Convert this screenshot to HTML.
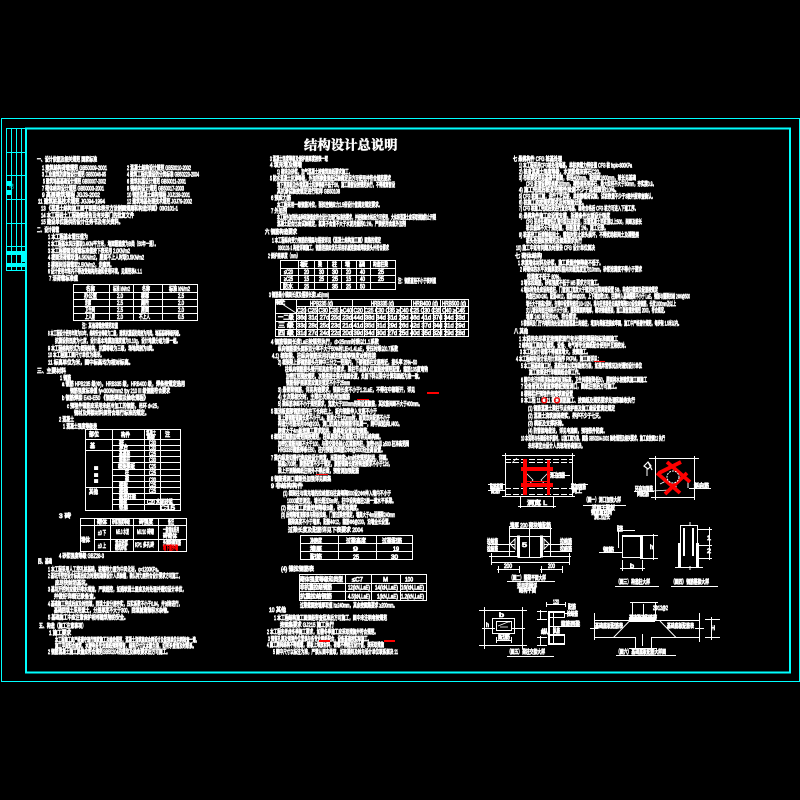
<!DOCTYPE html>
<html lang="zh"><head><meta charset="utf-8"><title>结构设计总说明</title>
<style>
html,body{margin:0;padding:0;background:#000;width:800px;height:800px;overflow:hidden}
svg{display:block}
.t text{font-family:"Liberation Sans","Noto Sans CJK SC",sans-serif;font-size:6.2px;fill:#fff;stroke:#fff;stroke-width:.8}
.l{stroke:#fff;stroke-width:1;fill:none;shape-rendering:crispEdges}
.d{stroke:#fff;stroke-width:1;fill:none}
.c{stroke:#0ff;fill:none;shape-rendering:crispEdges}
.r{fill:#f00;shape-rendering:crispEdges}
</style></head><body>
<svg xmlns="http://www.w3.org/2000/svg" width="800" height="800" viewBox="0 0 800 800">
<rect width="800" height="800" fill="#000"/>
<!-- frames -->
<rect class="c" x="1.5" y="118.5" width="798" height="563"/>
<rect class="c" x="26" y="128.5" width="764" height="544" stroke-width="2" style="stroke-width:2"/>
<line class="c" x1="6" y1="128.5" x2="790" y2="128.5"/>
<path class="c" d="M6.5 128V270.5H26M11.5 128V270.5M16.5 128V270.5M21.5 128V270.5M6.5 152.5H26M6.5 175.5H26M6.5 199.5H26M6.5 223.5H26M6.5 246.5H26"/>
<g fill="#0ff" shape-rendering="crispEdges">
<rect x="7" y="181" width="5" height="5"/><rect x="7" y="190" width="5" height="5"/>
<rect x="7" y="251" width="19" height="4"/><rect x="7" y="263" width="19" height="4"/>
<rect x="21" y="255" width="5" height="7"/>
</g>
<text x="9" y="188" font-size="5" fill="#0ff" font-family="'Liberation Sans','Noto Sans CJK SC',sans-serif">结</text>
<!-- title -->
<text x="304" y="149.5" font-size="13.3" fill="#fff" stroke="#fff" stroke-width=".5" font-weight="700" font-family="'Liberation Serif','Noto Serif CJK SC',serif" textLength="93.5" lengthAdjust="spacingAndGlyphs">结构设计总说明</text>

<!-- tables -->
<g class="l">
<rect x="73.5" y="284.5" width="124" height="36"/>
<path d="M73 292.5H198M73 299.5H198M73 306.5H198M73 313.5H198M109.5 284V321M133.5 284V321M162.5 284V321"/>
<rect x="85.5" y="429.5" width="95" height="81"/>
<path d="M85 439.5H181M112 445.5H181M85 450.5H181M112 456.5H181M112 462.5H181M112 469.5H181M112 475.5H181M112 481.5H181M85 487.5H181M112 493.5H181M112 499.5H181M112 504.5H181M112.5 429V511M144.5 429V511M160.5 429V511"/>
<rect x="80.5" y="518.5" width="106" height="33"/>
<path d="M80 525.5H187M94 539.5H187M94.5 518V552M110.5 518V552M133.5 518V552M158.5 518V552"/>
<rect x="280.5" y="260.5" width="115" height="29"/>
<path d="M280 268.5H396M280 275.5H396M280 282.5H396M298.5 260V290M314.5 260V290M327.5 260V290M341.5 260V290M356.5 260V290M370.5 260V290"/>
<rect x="275.5" y="299.5" width="193" height="37"/>
<path d="M296 306.5H469M275 313.5H469M275 321.5H469M275 329.5H469M296.5 299V337M352.5 299V337M411.5 299V337M440.5 299V337M305.5 306V337M317.5 306V337M329.5 306V337M340.5 306V337M364.5 306V337M376.5 306V337M388.5 306V337M400.5 306V337M423.5 306V337M433.5 306V337M445.5 306V337M456.5 306V337"/>
<rect x="300.5" y="535.5" width="112" height="24"/>
<path d="M300 543.5H413M300 551.5H413M338.5 535V560M376.5 535V560"/>
<rect x="299.5" y="574.5" width="127" height="26"/>
<path d="M299 583.5H427M299 591.5H427M345.5 574V601M371.5 574V601M400.5 574V601"/>
</g>
<line class="d" x1="276" y1="300" x2="296" y2="313"/>

<g class="t">
<!-- column 1 -->
<text x="37" y="161.7" textLength="60" lengthAdjust="spacingAndGlyphs">一、设计依据及相关规范 国家标准</text>
<text x="42" y="169.9" textLength="65" lengthAdjust="spacingAndGlyphs">1 建筑结构荷载规范 GB50009-2001</text>
<text x="127" y="169.9" textLength="64" lengthAdjust="spacingAndGlyphs">2 混凝土结构设计规范 GB50010-2002</text>
<text x="42" y="176.7" textLength="64" lengthAdjust="spacingAndGlyphs">3 工业建筑防腐蚀设计规范 GB50046-95</text>
<text x="127" y="176.7" textLength="72" lengthAdjust="spacingAndGlyphs">4 建筑工程抗震设防分类标准 GB50223-2004</text>
<text x="43" y="183.7" textLength="63" lengthAdjust="spacingAndGlyphs">5 建筑地基基础设计规范 GB50007-2002</text>
<text x="127" y="183.7" textLength="59" lengthAdjust="spacingAndGlyphs">6 建筑抗震设计规范 GB50011-2001</text>
<text x="42" y="190.7" textLength="62" lengthAdjust="spacingAndGlyphs">7 砌体结构设计规范 GB50003-2001</text>
<text x="127" y="190.7" textLength="57" lengthAdjust="spacingAndGlyphs">8 钢结构设计规范 GB50017-2003</text>
<text x="42" y="197.2" textLength="58" lengthAdjust="spacingAndGlyphs">9 高层建筑规程 JGJ3-2002</text>
<text x="127" y="197.2" textLength="63" lengthAdjust="spacingAndGlyphs">10 钢筋混凝土结构规程 JGJ138-2001</text>
<text x="38" y="203.7" textLength="67" lengthAdjust="spacingAndGlyphs">11 建筑桩基技术规范 JGJ94-1994</text>
<text x="127" y="203.7" textLength="65" lengthAdjust="spacingAndGlyphs">12 建筑地基处理技术规范 JGJ79-2002</text>
<text x="41" y="210.7" textLength="137" lengthAdjust="spacingAndGlyphs">13 《混凝土结构施工图平面整体表示方法制图规则和构造详图》03G101-1</text>
<text x="41" y="217.7" textLength="93" lengthAdjust="spacingAndGlyphs">14 本工程岩土工程勘察报告及有关部门的批复文件</text>
<text x="41" y="224.2" textLength="82" lengthAdjust="spacingAndGlyphs">15 建设单位提供的设计任务书及有关资料。</text>
<text x="37" y="232.2" textLength="22" lengthAdjust="spacingAndGlyphs">二、设计荷载</text>
<text x="48" y="239.2" textLength="40" lengthAdjust="spacingAndGlyphs">1 本工程基本雪压值为</text>
<text x="48" y="246.2" textLength="110" lengthAdjust="spacingAndGlyphs">2 本工程基本风压值取0.4KN/平方米，地面粗糙度为B类（50年一遇）。</text>
<text x="48" y="253.2" textLength="82" lengthAdjust="spacingAndGlyphs">3 本工程楼面活荷载标准值按下表采用 2.0KN/m2</text>
<text x="48" y="259.7" textLength="96" lengthAdjust="spacingAndGlyphs">4 楼面活荷载取值4.5KN/m2，屋面不上人时取0.5KN/m2</text>
<text x="48" y="267.2" textLength="66" lengthAdjust="spacingAndGlyphs">5 楼梯间活荷载取2.5KN/m2，走廊同。</text>
<text x="48" y="273.7" textLength="94" lengthAdjust="spacingAndGlyphs">6 设计使用年限内不得改变结构用途和使用环境，见规范表4.1.1</text>
<text x="49" y="280.7" textLength="29" lengthAdjust="spacingAndGlyphs">7 活荷载标准值</text>
<text x="82" y="328" textLength="36" lengthAdjust="spacingAndGlyphs">注：其他荷载按规范取值</text>
<text x="48" y="335.7" textLength="134" lengthAdjust="spacingAndGlyphs">8 本工程设计使用年限为50年，结构安全等级为二级，建筑抗震设防类别为丙类，地基基础等级丙级。</text>
<text x="55" y="343.2" textLength="125" lengthAdjust="spacingAndGlyphs">抗震设防烈度为七度，设计基本地震加速度值为0.10g，设计地震分组为第一组。</text>
<text x="48" y="350.7" textLength="108" lengthAdjust="spacingAndGlyphs">9 本工程结构形式为框架结构，抗震等级为三级，场地类别为II类。</text>
<text x="48" y="357.2" textLength="56" lengthAdjust="spacingAndGlyphs">10 本工程施工图尺寸单位为毫米。</text>
<text x="48" y="364.7" textLength="85" lengthAdjust="spacingAndGlyphs">11 标高单位为米，图中标高均为相对标高。</text>
<text x="37" y="373.2" textLength="29" lengthAdjust="spacingAndGlyphs">三、主要材料</text>
<text x="60" y="380.2" textLength="11" lengthAdjust="spacingAndGlyphs">1 钢筋</text>
<text x="62" y="386.2" textLength="123" lengthAdjust="spacingAndGlyphs">a 钢筋 HPB235 级(Φ)，HRB335 级，HRB400 级，焊条按规定选用</text>
<text x="70" y="393.2" textLength="100" lengthAdjust="spacingAndGlyphs">钢筋强度标准值 fy=300N/mm2 fpy 210 III 级钢筋符合要求</text>
<text x="62" y="400.2" textLength="86" lengthAdjust="spacingAndGlyphs">b 钢筋焊接 E43-E50 《钢筋焊接及验收规程》</text>
<text x="67" y="408.2" textLength="94" lengthAdjust="spacingAndGlyphs">c 预埋件锚筋应采用未经冷加工的钢筋，吊环 d=25，</text>
<text x="74" y="415.2" textLength="75" lengthAdjust="spacingAndGlyphs">钢材及焊接材料须符合现行标准的规定。</text>
<text x="59" y="421.7" textLength="15" lengthAdjust="spacingAndGlyphs">2 混凝土</text>
<text x="63" y="428.7" textLength="34" lengthAdjust="spacingAndGlyphs">1 混凝土强度等级表</text>
<text x="59" y="518.2" textLength="12" lengthAdjust="spacingAndGlyphs">3 砖</text>
<text x="59" y="558.2" textLength="45" lengthAdjust="spacingAndGlyphs">4 砂浆强度等级 GBZ28-3</text>
<text x="38" y="563.7" textLength="14" lengthAdjust="spacingAndGlyphs">四、基础</text>
<text x="48" y="571.7" textLength="113" lengthAdjust="spacingAndGlyphs">1 本工程采用人工挖孔桩基础，桩端持力层为中风化岩，q=1200KPa。</text>
<text x="48" y="578.2" textLength="134" lengthAdjust="spacingAndGlyphs">2 基坑开挖至设计标高后应及时通知勘察设计人员验槽，确认持力层符合设计要求方可施工，</text>
<text x="55" y="585.2" textLength="35" lengthAdjust="spacingAndGlyphs">应尽快封闭基坑。</text>
<text x="48" y="591.7" textLength="138" lengthAdjust="spacingAndGlyphs">3 基坑开挖时应做好排水措施，严禁超挖，如遇软弱土层应及时处理并通知设计单位，</text>
<text x="54" y="598.7" textLength="44" lengthAdjust="spacingAndGlyphs">并做好详细记录备查。</text>
<text x="48" y="606.2" textLength="134" lengthAdjust="spacingAndGlyphs">4 基础施工完成后应及时回填，回填土应分层夯实，压实系数不小于0.94，并对称进行，</text>
<text x="54" y="612.7" textLength="117" lengthAdjust="spacingAndGlyphs">基础回填土采用素土，分层厚度不大于300，回填前清除积水杂物。</text>
<text x="48" y="619.7" textLength="80" lengthAdjust="spacingAndGlyphs">5 基础施工中应注意保护相邻建筑物的安全。</text>
<text x="39" y="628.2" textLength="47" lengthAdjust="spacingAndGlyphs">五、构造（施工注意事项）</text>
<text x="49" y="635.2" textLength="22" lengthAdjust="spacingAndGlyphs">1 施工要求</text>
<text x="55" y="642.2" textLength="144" lengthAdjust="spacingAndGlyphs">本工程施工应严格遵守现行国家施工及验收规范，混凝土浇筑前应会同设计及监理单位共同检查一遍，</text>
<text x="55" y="648.2" textLength="141" lengthAdjust="spacingAndGlyphs">施工中应配合建筑、水暖电各专业图纸预埋预留，结构尺寸以本图为准，如有矛盾请及时联系。</text>
<text x="48" y="654.2" textLength="122" lengthAdjust="spacingAndGlyphs">2 钢筋混凝土施工质量应符合规范GB50204的规定及验收要求后方可施工。</text>
<!-- table1 text -->
<text x="86" y="291" textLength="9" lengthAdjust="spacingAndGlyphs">名称</text>
<text x="113" y="291" textLength="17" lengthAdjust="spacingAndGlyphs">标准 kN/m2</text>
<text x="142" y="291" textLength="8" lengthAdjust="spacingAndGlyphs">名称</text>
<text x="169" y="291" textLength="21" lengthAdjust="spacingAndGlyphs">标准 kN/m2</text>
<text x="84" y="298" textLength="13" lengthAdjust="spacingAndGlyphs">办公室</text>
<text x="117" y="298" textLength="6" lengthAdjust="spacingAndGlyphs">2.0</text>
<text x="141" y="298" textLength="8" lengthAdjust="spacingAndGlyphs">楼梯</text>
<text x="178" y="298" textLength="6" lengthAdjust="spacingAndGlyphs">2.5</text>
<text x="85" y="305" textLength="6" lengthAdjust="spacingAndGlyphs">走廊</text>
<text x="117" y="305" textLength="6" lengthAdjust="spacingAndGlyphs">2.5</text>
<text x="141" y="305" textLength="8" lengthAdjust="spacingAndGlyphs">厕所</text>
<text x="178" y="305" textLength="6" lengthAdjust="spacingAndGlyphs">2.0</text>
<text x="85" y="312" textLength="10" lengthAdjust="spacingAndGlyphs">卫生间</text>
<text x="117" y="312" textLength="6" lengthAdjust="spacingAndGlyphs">2.5</text>
<text x="141" y="312" textLength="8" lengthAdjust="spacingAndGlyphs">屋面</text>
<text x="178" y="312" textLength="6" lengthAdjust="spacingAndGlyphs">2.0</text>
<text x="85" y="319" textLength="10" lengthAdjust="spacingAndGlyphs">上人屋</text>
<text x="117" y="319" textLength="6" lengthAdjust="spacingAndGlyphs">2.0</text>
<text x="139" y="319" textLength="11" lengthAdjust="spacingAndGlyphs">不上人</text>
<text x="178" y="319" textLength="6" lengthAdjust="spacingAndGlyphs">0.5</text>
<!-- table2 text -->
<text x="89" y="436.5" textLength="10" lengthAdjust="spacingAndGlyphs">部位</text>
<text x="121" y="437" textLength="9" lengthAdjust="spacingAndGlyphs">构件</text>
<text x="146" y="435" textLength="10" lengthAdjust="spacingAndGlyphs">混凝土</text>
<text x="147" y="439.5" textLength="8" lengthAdjust="spacingAndGlyphs">等级</text>
<text x="165" y="436.5" textLength="5" lengthAdjust="spacingAndGlyphs">注</text>
<text x="90" y="448" textLength="5" lengthAdjust="spacingAndGlyphs">基</text>
<text x="119" y="445" textLength="5" lengthAdjust="spacingAndGlyphs">桩</text>
<text x="119" y="449.5" textLength="9" lengthAdjust="spacingAndGlyphs">承台</text>
<text x="149" y="445" textLength="7" lengthAdjust="spacingAndGlyphs">C30</text>
<text x="149" y="450" textLength="7" lengthAdjust="spacingAndGlyphs">C30</text>
<text x="119" y="456" textLength="11" lengthAdjust="spacingAndGlyphs">基础梁</text>
<text x="149" y="456" textLength="7" lengthAdjust="spacingAndGlyphs">C25</text>
<text x="119" y="462" textLength="11" lengthAdjust="spacingAndGlyphs">框架柱</text>
<text x="149" y="462" textLength="7" lengthAdjust="spacingAndGlyphs">C30</text>
<text x="118" y="468.5" textLength="17" lengthAdjust="spacingAndGlyphs">框架梁板</text>
<text x="149" y="468.5" textLength="7" lengthAdjust="spacingAndGlyphs">C25</text>
<text x="125" y="474.5" textLength="4" lengthAdjust="spacingAndGlyphs">柱</text>
<text x="149" y="482" textLength="7" lengthAdjust="spacingAndGlyphs">C30</text>
<text x="125" y="481" textLength="4" lengthAdjust="spacingAndGlyphs">梁</text>
<text x="149" y="475" textLength="7" lengthAdjust="spacingAndGlyphs">C25</text>
<text x="119" y="487" textLength="9" lengthAdjust="spacingAndGlyphs">楼板</text>
<text x="119" y="493" textLength="9" lengthAdjust="spacingAndGlyphs">楼梯</text>
<text x="119" y="499" textLength="17" lengthAdjust="spacingAndGlyphs">构造柱梁</text>
<text x="119" y="504" textLength="8" lengthAdjust="spacingAndGlyphs">圈梁</text>
<text x="119" y="510" textLength="9" lengthAdjust="spacingAndGlyphs">垫层</text>
<text x="149" y="487" textLength="7" lengthAdjust="spacingAndGlyphs">C25</text>
<text x="149" y="493" textLength="7" lengthAdjust="spacingAndGlyphs">C25</text>
<text x="147" y="504" textLength="26" lengthAdjust="spacingAndGlyphs">C20 水泥砂浆</text>
<text x="160" y="510" textLength="15" lengthAdjust="spacingAndGlyphs">C15</text>
<text x="94" y="470" textLength="4" lengthAdjust="spacingAndGlyphs">■</text>
<text x="94" y="477" textLength="4" lengthAdjust="spacingAndGlyphs">■</text>
<text x="94" y="483" textLength="4" lengthAdjust="spacingAndGlyphs">■</text>
<text x="89" y="494" textLength="9" lengthAdjust="spacingAndGlyphs">其他</text>
<!-- table3 -->
<text x="97" y="524" textLength="10" lengthAdjust="spacingAndGlyphs">砌体</text>
<text x="112" y="524" textLength="18" lengthAdjust="spacingAndGlyphs">砂浆强度等级</text>
<text x="139" y="524" textLength="14" lengthAdjust="spacingAndGlyphs">砖强度</text>
<text x="168" y="524" textLength="6" lengthAdjust="spacingAndGlyphs">备注</text>
<text x="81" y="542" textLength="9" lengthAdjust="spacingAndGlyphs">墙体</text>
<text x="98" y="535" textLength="8" lengthAdjust="spacingAndGlyphs">±0 下</text>
<text x="116" y="534" textLength="13" lengthAdjust="spacingAndGlyphs">M5.0 水泥</text>
<text x="137" y="534" textLength="17" lengthAdjust="spacingAndGlyphs">MU10 砖砌</text>
<text x="163" y="532" textLength="16" lengthAdjust="spacingAndGlyphs">一般墙体采用</text>
<text x="163" y="538" textLength="14" lengthAdjust="spacingAndGlyphs">砖砌体</text>
<text x="98" y="548" textLength="8" lengthAdjust="spacingAndGlyphs">±0 上</text>
<text x="115" y="545" textLength="13" lengthAdjust="spacingAndGlyphs">混合砂浆</text>
<text x="115" y="550" textLength="12" lengthAdjust="spacingAndGlyphs">砌筑砂浆</text>
<text x="135" y="547" textLength="19" lengthAdjust="spacingAndGlyphs">KP1 多孔砖</text>
<text x="163" y="545" textLength="18" lengthAdjust="spacingAndGlyphs">外墙粉刷加筋</text>

<!-- column 2 -->
<text x="270" y="160.9" textLength="58" lengthAdjust="spacingAndGlyphs">3 混凝土强度等级及保护层厚度按表一取</text>
<text x="270" y="167.2" textLength="32" lengthAdjust="spacingAndGlyphs">4 填充墙及隔墙</text>
<text x="277" y="174.2" textLength="75" lengthAdjust="spacingAndGlyphs">1) 砌块及砂浆，加气混凝土按建筑图纸要求施工，</text>
<text x="270" y="180.5" textLength="121" lengthAdjust="spacingAndGlyphs">5 防水混凝土抗渗等级，外加剂掺量须经试验确定后方可使用并符合规范要求</text>
<text x="277" y="186.9" textLength="118" lengthAdjust="spacingAndGlyphs">地下室底板及外墙混凝土抗渗等级不低于S6，施工缝留设按规范执行，不得随意留设</text>
<text x="277" y="193.5" textLength="63" lengthAdjust="spacingAndGlyphs">其抗渗试验按规定进行取样 GB50108</text>
<text x="271" y="199.9" textLength="20" lengthAdjust="spacingAndGlyphs">6 预应力筋</text>
<text x="277" y="206.9" textLength="105" lengthAdjust="spacingAndGlyphs">本工程采用一级钢筋冷拉，张拉控制应力2.5倍设计值满足规定要求。</text>
<text x="271" y="212.9" textLength="16" lengthAdjust="spacingAndGlyphs">7 外加剂</text>
<text x="277" y="219.5" textLength="159" lengthAdjust="spacingAndGlyphs">本工程外加剂的品种和掺量应符合设计及现行标准的要求，并经检验合格后方可使用，大体积混凝土应采取措施防止开裂</text>
<text x="277" y="226.2" textLength="129" lengthAdjust="spacingAndGlyphs">混凝土配合比由试验确定，氯离子含量不大于水泥用量的0.1%，严禁使用含氯外加剂</text>
<text x="265" y="233.9" textLength="32" lengthAdjust="spacingAndGlyphs">六 钢筋构造要求</text>
<text x="272" y="242.5" textLength="109" lengthAdjust="spacingAndGlyphs">1 本工程纵向受力钢筋的锚固与搭接详见《混凝土结构施工图》图集的规定</text>
<text x="278" y="250.2" textLength="111" lengthAdjust="spacingAndGlyphs">03G101-1 构造详图施工，钢筋连接应优先采用机械连接或焊接接头并符合要求</text>
<text x="268" y="257.9" textLength="32" lengthAdjust="spacingAndGlyphs">2 保护层厚度（mm）</text>
<text x="398" y="282.9" textLength="38" lengthAdjust="spacingAndGlyphs">注：钢筋直径不小于表列值</text>
<text x="269" y="296.9" textLength="60" lengthAdjust="spacingAndGlyphs">3 钢筋最小锚固长度及搭接长度LaE(mm)</text>
<!-- table4 -->
<text x="300" y="266.5" textLength="8" lengthAdjust="spacingAndGlyphs">板</text>
<text x="318" y="266.5" textLength="4" lengthAdjust="spacingAndGlyphs">梁</text>
<text x="332" y="266.5" textLength="5" lengthAdjust="spacingAndGlyphs">柱</text>
<text x="345" y="266.5" textLength="5" lengthAdjust="spacingAndGlyphs">墙</text>
<text x="359" y="266.5" textLength="6" lengthAdjust="spacingAndGlyphs">基础</text>
<text x="373" y="266.5" textLength="15" lengthAdjust="spacingAndGlyphs">构造柱梁</text>
<text x="284" y="274" textLength="9" lengthAdjust="spacingAndGlyphs">≤C20</text>
<text x="304" y="274" textLength="5" lengthAdjust="spacingAndGlyphs">20</text>
<text x="319" y="274" textLength="5" lengthAdjust="spacingAndGlyphs">30</text>
<text x="332" y="274" textLength="6" lengthAdjust="spacingAndGlyphs">30</text>
<text x="346" y="274" textLength="5" lengthAdjust="spacingAndGlyphs">20</text>
<text x="360" y="274" textLength="5" lengthAdjust="spacingAndGlyphs">40</text>
<text x="378" y="274" textLength="6" lengthAdjust="spacingAndGlyphs">25</text>
<text x="284" y="281" textLength="9" lengthAdjust="spacingAndGlyphs">≥C25</text>
<text x="304" y="281" textLength="5" lengthAdjust="spacingAndGlyphs">15</text>
<text x="319" y="281" textLength="5" lengthAdjust="spacingAndGlyphs">25</text>
<text x="332" y="281" textLength="6" lengthAdjust="spacingAndGlyphs">25</text>
<text x="346" y="281" textLength="5" lengthAdjust="spacingAndGlyphs">15</text>
<text x="360" y="281" textLength="5" lengthAdjust="spacingAndGlyphs">40</text>
<text x="378" y="281" textLength="6" lengthAdjust="spacingAndGlyphs">25</text>
<text x="283" y="288.5" textLength="10" lengthAdjust="spacingAndGlyphs">防水</text>
<text x="304" y="288.5" textLength="5" lengthAdjust="spacingAndGlyphs">25</text>
<text x="332" y="288.5" textLength="6" lengthAdjust="spacingAndGlyphs">35</text>
<text x="346" y="288.5" textLength="5" lengthAdjust="spacingAndGlyphs">25</text>
<text x="360" y="288.5" textLength="5" lengthAdjust="spacingAndGlyphs">50</text>
<!-- table5 -->
<text x="310" y="305.5" textLength="23" lengthAdjust="spacingAndGlyphs">HPB235 (d)</text>
<text x="371" y="305.5" textLength="23" lengthAdjust="spacingAndGlyphs">HRB335 (d)</text>
<text x="413" y="305.5" textLength="25" lengthAdjust="spacingAndGlyphs">HRB400 (d)</text>
<text x="442" y="305.5" textLength="24" lengthAdjust="spacingAndGlyphs">HRB500 (d)</text>
<text x="276" y="304.5" textLength="9" lengthAdjust="spacingAndGlyphs">砼</text>
<text x="278" y="319.7" textLength="16" lengthAdjust="spacingAndGlyphs">一二级</text>
<text x="278" y="327.5" textLength="16" lengthAdjust="spacingAndGlyphs">三 级</text>
<text x="278" y="335.2" textLength="16" lengthAdjust="spacingAndGlyphs">四 级</text>
<text x="297" y="312.5" textLength="168" lengthAdjust="spacingAndGlyphs">C20 C25 C30 C35 ≥C40 C20 C25 C30 C35 ≥C40 C25 C30 C35 C40 ≥C45</text>
<text x="297" y="319.7" textLength="168" lengthAdjust="spacingAndGlyphs">36d 31d 27d 25d 23d 44d 38d 34d 31d 29d 46d 41d 37d 34d 33d</text>
<text x="297" y="327.5" textLength="168" lengthAdjust="spacingAndGlyphs">33d 28d 25d 23d 21d 41d 35d 31d 29d 26d 42d 37d 34d 31d 29d</text>
<text x="297" y="335.2" textLength="168" lengthAdjust="spacingAndGlyphs">31d 27d 24d 22d 20d 39d 34d 30d 27d 25d 40d 35d 32d 29d 28d</text>
<!-- col2 continued -->
<text x="271" y="344.2" textLength="108" lengthAdjust="spacingAndGlyphs">4 钢筋锚固长度LaE按规范执行，d&gt;25mm时乘以1.1系数</text>
<text x="278" y="351.2" textLength="120" lengthAdjust="spacingAndGlyphs">纵向钢筋接头面积百分率不大于50%时LlE=1.4LaE，受压时乘以0.7系数</text>
<text x="272" y="357.9" textLength="104" lengthAdjust="spacingAndGlyphs">4.1) 框架梁、柱纵向钢筋采用机械连接或等强度对焊连接</text>
<text x="278" y="364.5" textLength="139" lengthAdjust="spacingAndGlyphs">2) 框架梁上部钢筋接头在跨中三分之一范围内，下部钢筋在支座附近，接头率 25%~50</text>
<text x="285" y="371.5" textLength="143" lengthAdjust="spacingAndGlyphs">柱纵向钢筋接头错开距离应符合要求，梁柱节点核心区箍筋按规范配置，箍筋135度弯钩</text>
<text x="286" y="378.5" textLength="136" lengthAdjust="spacingAndGlyphs">加密区范围按规范，次梁搭接主梁内锚固长度，负筋下料以梁中计算和图纸为准一致。</text>
<text x="286" y="385.2" textLength="64" lengthAdjust="spacingAndGlyphs">钢筋保护层厚度应满足规定不小于25mm</text>
<text x="278" y="392.2" textLength="137" lengthAdjust="spacingAndGlyphs">3) 悬臂梁钢筋，详见构造要求，锚固长度不小于1.2LaE，不得在中部断开，详见</text>
<text x="278" y="398.9" textLength="72" lengthAdjust="spacingAndGlyphs">4) 主次梁相交时，主梁在次梁处附加箍筋</text>
<text x="278" y="406.2" textLength="144" lengthAdjust="spacingAndGlyphs">5) 梁纵筋净距不小于规范要求，宽度大于300mm的梁设置腰筋，其拉筋间距不大于400mm。</text>
<text x="271" y="413.5" textLength="106" lengthAdjust="spacingAndGlyphs">5 现浇板底部钢筋短向在下长向在上，板内钢筋伸入支座不小于</text>
<text x="278" y="420.2" textLength="112" lengthAdjust="spacingAndGlyphs">板上部钢筋锚固长度不小于La，板厚大于120mm时，板面双向配筋不小于</text>
<text x="278" y="426.2" textLength="124" lengthAdjust="spacingAndGlyphs">构造分布筋采用Φ6@200，洞口四周加强钢筋详见图一，跨中应起拱L/400。</text>
<text x="278" y="432.9" textLength="93" lengthAdjust="spacingAndGlyphs">跨度大于4m板按施工要求起拱，悬挑板设置附加钢筋。</text>
<text x="271" y="438.9" textLength="112" lengthAdjust="spacingAndGlyphs">6 框架柱箍筋加密范围按规范，柱纵筋接头及箍筋大样详见结构图。</text>
<text x="278" y="445.9" textLength="131" lengthAdjust="spacingAndGlyphs">加密区箍筋间距不大于100，与梁交接处核心区箍筋同柱，加密H/6且 ≥500 柱净高范围</text>
<text x="278" y="451.9" textLength="107" lengthAdjust="spacingAndGlyphs">HRB335钢筋焊条E50，柱内预留拉结筋2Φ6@500沿全高设置。</text>
<text x="271" y="459.9" textLength="119" lengthAdjust="spacingAndGlyphs">7 梁内纵筋如需代换应经设计同意，当梁跨度≥4m时按规范起拱，详图。</text>
<text x="278" y="466.2" textLength="114" lengthAdjust="spacingAndGlyphs">梁高≥700时，腰筋配置不少于规定，腰筋锚固长度按构造要求不小于12d，</text>
<text x="278" y="472.9" textLength="81" lengthAdjust="spacingAndGlyphs">梁上开洞除图纸注明外不得后凿，预留洞加强配筋</text>
<text x="271" y="481.2" textLength="60" lengthAdjust="spacingAndGlyphs">8 钢筋遇洞口截断处加强详见图集</text>
<text x="271" y="487.9" textLength="32" lengthAdjust="spacingAndGlyphs">9 非结构构件</text>
<text x="283" y="495.5" textLength="108" lengthAdjust="spacingAndGlyphs">(1) 框架柱与填充墙的拉结筋沿柱高每隔500设2Φ6伸入墙内不小于</text>
<text x="287" y="502.9" textLength="109" lengthAdjust="spacingAndGlyphs">1000或至洞边，墙长超过5m时，柱中设构造柱2层一道水平系梁。</text>
<text x="281" y="510.2" textLength="80" lengthAdjust="spacingAndGlyphs">(2) 砌体施工质量控制等级B级，砂浆饱满度。</text>
<text x="281" y="516.9" textLength="114" lengthAdjust="spacingAndGlyphs">(3) 后砌隔墙顶部须与梁板拉结，门窗过梁按规定，墙高大于4m设圈梁240mm</text>
<text x="288" y="524.2" textLength="104" lengthAdjust="spacingAndGlyphs">圈梁高度不小于墙厚，配筋4Φ12，箍筋Φ6@200，沿墙全长设置。</text>
<text x="288" y="532.2" textLength="75" lengthAdjust="spacingAndGlyphs">过梁长度及配筋详见下表要求 2004</text>
<text x="310" y="543" textLength="12" lengthAdjust="spacingAndGlyphs">净跨度</text>
<text x="346" y="543" textLength="20" lengthAdjust="spacingAndGlyphs">过梁高度</text>
<text x="382" y="543" textLength="20" lengthAdjust="spacingAndGlyphs">过梁配筋</text>
<text x="310" y="551" textLength="12" lengthAdjust="spacingAndGlyphs">墙厚</text>
<text x="353" y="551" textLength="5" lengthAdjust="spacingAndGlyphs">9</text>
<text x="393" y="551" textLength="6" lengthAdjust="spacingAndGlyphs">19</text>
<text x="310" y="559" textLength="12" lengthAdjust="spacingAndGlyphs">配筋</text>
<text x="353" y="559" textLength="6" lengthAdjust="spacingAndGlyphs">25</text>
<text x="391" y="559" textLength="7" lengthAdjust="spacingAndGlyphs">30</text>
<text x="281" y="571.2" textLength="33" lengthAdjust="spacingAndGlyphs">(4) 锚拉钢筋表</text>
<text x="300" y="581.5" textLength="43" lengthAdjust="spacingAndGlyphs">砌体强度等级和类型</text>
<text x="352" y="581.5" textLength="11" lengthAdjust="spacingAndGlyphs">≤C7</text>
<text x="383" y="581.5" textLength="5" lengthAdjust="spacingAndGlyphs">M</text>
<text x="405" y="581.5" textLength="8" lengthAdjust="spacingAndGlyphs">100</text>
<text x="300" y="589.7" textLength="32" lengthAdjust="spacingAndGlyphs">非抗震拉结钢筋</text>
<text x="348" y="589.7" textLength="22" lengthAdjust="spacingAndGlyphs">12(kN,LaE)</text>
<text x="375" y="589.7" textLength="23" lengthAdjust="spacingAndGlyphs">14(kN,LaE)</text>
<text x="401" y="589.7" textLength="23" lengthAdjust="spacingAndGlyphs">16(kN,LaE)</text>
<text x="300" y="598.5" textLength="32" lengthAdjust="spacingAndGlyphs">抗震拉结钢筋</text>
<text x="348" y="598.5" textLength="22" lengthAdjust="spacingAndGlyphs">4.5(kN,LaE)</text>
<text x="377" y="598.5" textLength="21" lengthAdjust="spacingAndGlyphs">1(kN,LaE)</text>
<text x="401" y="598.5" textLength="23" lengthAdjust="spacingAndGlyphs">1.2(kN,LaE)</text>
<text x="300" y="607.5" textLength="97" lengthAdjust="spacingAndGlyphs">过梁截面按墙厚取值 h≥240mm，其余按图集要求 ≥200mm。</text>
<text x="269" y="612.2" textLength="17" lengthAdjust="spacingAndGlyphs">10 其他</text>
<text x="274" y="619.9" textLength="113" lengthAdjust="spacingAndGlyphs">1 本工程结构施工图须经审查批准后方可施工，图中未注明者按规范</text>
<text x="280" y="627.2" textLength="54" lengthAdjust="spacingAndGlyphs">按图集要求 GJ215 施工执行</text>
<text x="267" y="633.9" textLength="111" lengthAdjust="spacingAndGlyphs">2 本工程未考虑冬季施工要求，如需冬季施工应采取措施并符合规范。</text>
<text x="268" y="640.9" textLength="103" lengthAdjust="spacingAndGlyphs">3 预留孔洞及预埋件位置须与各专业图纸配合，设备基础按实际施工。</text>
<text x="267" y="647.2" textLength="117" lengthAdjust="spacingAndGlyphs">4 施工期间结构不得超载，楼板上堆放材料，荷载不得超过设计值，须采取措施</text>
<text x="273" y="654.2" textLength="125" lengthAdjust="spacingAndGlyphs">5 图中尺寸以标注为准，严禁从图中量取，如有疑问及时与设计单位联系解决 11</text>

<!-- column 3 -->
<text x="513" y="161.2" textLength="49" lengthAdjust="spacingAndGlyphs">七 悬挑构件 CFG 桩基处理</text>
<text x="519" y="167.5" textLength="113" lengthAdjust="spacingAndGlyphs">1) 本工程采用CFG桩处理地基，单桩承载力特征值 CFG 桩 fspk=300KPa</text>
<text x="519" y="173.9" textLength="84" lengthAdjust="spacingAndGlyphs">2) 桩身混凝土强度等级，水泥粉煤灰碎石C20。</text>
<text x="519" y="179.9" textLength="117" lengthAdjust="spacingAndGlyphs">3) 布桩要求详见基础平面图，桩径400mm，桩间距1600mm，桩长见基础</text>
<text x="526" y="186.2" textLength="130" lengthAdjust="spacingAndGlyphs">CFG 桩顶设褥垫层厚200mm，褥垫层采用碎石，最大粒径不大于30mm，夯实度0.9。</text>
<text x="519" y="192.2" textLength="100" lengthAdjust="spacingAndGlyphs">4) 施工完成后桩身完整性检测不少于总桩数的10%。</text>
<text x="519" y="198.5" textLength="136" lengthAdjust="spacingAndGlyphs">5) CFG 桩施工前，进行工艺试桩，单桩静载荷试验，试桩数量不少于3根并报审查确认。</text>
<text x="519" y="204.5" textLength="67" lengthAdjust="spacingAndGlyphs">6) 桩施工应按规范要求及时检验记录。</text>
<text x="519" y="210.5" textLength="119" lengthAdjust="spacingAndGlyphs">7) CFG 桩施工完成后须进行复合地基，验收合格后 CFG 桩方可进入下道工序。</text>
<text x="519" y="217.9" textLength="91" lengthAdjust="spacingAndGlyphs">8) 悬挑构件施工应设置支撑，拆模条件达到设计强度</text>
<text x="526" y="224.2" textLength="116" lengthAdjust="spacingAndGlyphs">CFG 采用长螺旋钻孔管内泵压成桩法，压灌混凝土至桩顶以上500，间距及桩长</text>
<text x="526" y="229.9" textLength="82" lengthAdjust="spacingAndGlyphs">桩位偏差不大于规范值，桩垂直度 1%，施工记录。</text>
<text x="519" y="237.2" textLength="120" lengthAdjust="spacingAndGlyphs">9) 桩基完工后清除桩间土，截桩时防止桩头损坏，不得扰动桩间土及褥垫层</text>
<text x="526" y="243.2" textLength="56" lengthAdjust="spacingAndGlyphs">桩头处理应按规范及图集要求执行</text>
<text x="516" y="249.9" textLength="79" lengthAdjust="spacingAndGlyphs">10) 施工中如有问题及时报告 CFG 设计单位解决</text>
<text x="515" y="257.9" textLength="27" lengthAdjust="spacingAndGlyphs">七 砌体结构</text>
<text x="518" y="265.2" textLength="85" lengthAdjust="spacingAndGlyphs">1 承重墙体材料及砂浆，施工质量控制等级不低于。</text>
<text x="520" y="271.5" textLength="122" lengthAdjust="spacingAndGlyphs">2 砖砌体的水平灰缝厚度和竖向灰缝宽度宜为10mm，砂浆饱满度不得小于要求</text>
<text x="527" y="278.9" textLength="36" lengthAdjust="spacingAndGlyphs">饱满度不低于 80%，</text>
<text x="521" y="284.9" textLength="80" lengthAdjust="spacingAndGlyphs">3 墙体拉结筋，砂浆强度不低于 M5 要求方可施工。</text>
<text x="521" y="291.9" textLength="137" lengthAdjust="spacingAndGlyphs">4 墙体转角处应设构造柱，门窗洞口宽度大于规定时过梁两端设置 5Φ，构造柱截面及配筋按规定</text>
<text x="526" y="298.5" textLength="164" lengthAdjust="spacingAndGlyphs">构造柱240×240，配筋4Φ12，箍筋Φ6@200，上下端加密100，柱脚伸入基础圈梁不小于 LaE，钢筋与圈梁拉结 2Φ6@500</text>
<text x="526" y="306" textLength="150" lengthAdjust="spacingAndGlyphs">墙长大于层高2倍时，在墙中设置构造柱1/3~1/2H，墙与柱连接处沿高度每隔500设拉结钢筋，长度1000mm及以上</text>
<text x="526" y="312.5" textLength="141" lengthAdjust="spacingAndGlyphs">女儿墙设构造柱间距不大于3米，圈梁截面同墙厚，砌块错缝搭接，施工缝留置按规范 2003，符合规定。</text>
<text x="526" y="318.9" textLength="54" lengthAdjust="spacingAndGlyphs">墙厚 240 时采用Φ6，符合要求。</text>
<text x="521" y="325.5" textLength="160" lengthAdjust="spacingAndGlyphs">5 楼梯间及门厅内墙阳角处设置钢筋混凝土构造柱，墙顶与梁板连接应牢固，施工中严格遵守规范，每步架 1.5米以内。</text>
<text x="514" y="333.5" textLength="14" lengthAdjust="spacingAndGlyphs">八 其他</text>
<text x="519" y="340.9" textLength="99" lengthAdjust="spacingAndGlyphs">1 本说明未尽事宜按国家现行有关规范规程和标准图施工</text>
<text x="519" y="347.5" textLength="109" lengthAdjust="spacingAndGlyphs">2 结构施工图应与建筑、设备、电气等专业图纸配合使用并互相校对。</text>
<text x="520" y="354.2" textLength="70" lengthAdjust="spacingAndGlyphs">3 本工程设计荷载不得随意增大，按图施工。</text>
<text x="516" y="360.9" textLength="85" lengthAdjust="spacingAndGlyphs">4 本工程结构设计采用计算程序 PKPM，施工图详见：</text>
<text x="521" y="367.9" textLength="121" lengthAdjust="spacingAndGlyphs">5 本工程基础施工时，基底标高以实际勘探为准，如遇异常情况及时通知设计单位</text>
<text x="529" y="374.5" textLength="53" lengthAdjust="spacingAndGlyphs">施工前须进行详细图纸会审工作。</text>
<text x="521" y="381.9" textLength="126" lengthAdjust="spacingAndGlyphs">6 图中未注明梁顶标高同板顶标高，卫生间楼板降低50，屋面排水按建筑施工图施工</text>
<text x="521" y="388.5" textLength="98" lengthAdjust="spacingAndGlyphs">7 设备留洞及管道穿楼板预留洞口，图纸注明后方可施工。</text>
<text x="521" y="395.9" textLength="52" lengthAdjust="spacingAndGlyphs">8 楼梯栏杆预埋件按建筑图设置</text>
<text x="521" y="402.5" textLength="114" lengthAdjust="spacingAndGlyphs">9 本工程 11   图 11  规定钢筋施工、按图纸及规范要求处理和验收执行</text>
<text x="528" y="410.5" textLength="87" lengthAdjust="spacingAndGlyphs">(1) 钢筋混凝土梁柱节点保护层及施工缝设置满足规定</text>
<text x="528" y="417.9" textLength="75" lengthAdjust="spacingAndGlyphs">(2) 混凝土浇筑振捣密实，养护不少于七天。</text>
<text x="528" y="425.5" textLength="38" lengthAdjust="spacingAndGlyphs">(3) 模板及支撑拆除。</text>
<text x="528" y="433.2" textLength="79" lengthAdjust="spacingAndGlyphs">(4) 防雷接地做法，详见电施图，预埋铁件防腐。</text>
<text x="521" y="440.5" textLength="144" lengthAdjust="spacingAndGlyphs">10 本说明与各图纸有矛盾时，以施工图为准，图集 GB50204-2002 验收规范及相关要求，施工应按图12 执行</text>
<text x="528" y="447.9" textLength="57" lengthAdjust="spacingAndGlyphs">未尽事宜由设计人员现场协商解决。</text>

<!-- drawing labels -->
<text x="550" y="477.7" textLength="15" lengthAdjust="spacingAndGlyphs">洞口加强筋</text>
<text x="490" y="489" textLength="13" lengthAdjust="spacingAndGlyphs">配筋范围</text>
<text x="491" y="493.2" textLength="9" lengthAdjust="spacingAndGlyphs">配筋</text>
<text x="571" y="489" textLength="15" lengthAdjust="spacingAndGlyphs">梁加强筋</text>
<text x="572" y="493.2" textLength="10" lengthAdjust="spacingAndGlyphs">同上</text>
<text x="527" y="505.2" textLength="20" lengthAdjust="spacingAndGlyphs">洞宽 L</text>
<text x="584" y="502.2" textLength="37" lengthAdjust="spacingAndGlyphs">（图一）洞口加强大样</text>
<text x="592" y="510.2" textLength="23" lengthAdjust="spacingAndGlyphs">适用于梁板</text>
<text x="591" y="514.5" textLength="21" lengthAdjust="spacingAndGlyphs">钢筋直径同</text>
<text x="594" y="519.2" textLength="16" lengthAdjust="spacingAndGlyphs">洞口边长</text>
<text x="635" y="491.2" textLength="18" lengthAdjust="spacingAndGlyphs">环向加强筋</text>
<text x="637" y="496.2" textLength="12" lengthAdjust="spacingAndGlyphs">同配筋</text>
<text x="694" y="488" textLength="15" lengthAdjust="spacingAndGlyphs">斜向筋</text>
<text x="510" y="527.7" textLength="41" lengthAdjust="spacingAndGlyphs">墙厚 200 砌块墙配筋</text>
<text x="487" y="543.7" textLength="11" lengthAdjust="spacingAndGlyphs">拉结筋</text>
<text x="487" y="551" textLength="11" lengthAdjust="spacingAndGlyphs">拉结筋</text>
<text x="560" y="543.7" textLength="12" lengthAdjust="spacingAndGlyphs">拉结筋</text>
<text x="560" y="551" textLength="12" lengthAdjust="spacingAndGlyphs">拉结筋</text>
<text x="522" y="547" textLength="5" lengthAdjust="spacingAndGlyphs">5</text>
<text x="504" y="568.2" textLength="8" lengthAdjust="spacingAndGlyphs">200</text>
<text x="548" y="568.2" textLength="7" lengthAdjust="spacingAndGlyphs">200</text>
<text x="509" y="579.9" textLength="37" lengthAdjust="spacingAndGlyphs">（图二）圈梁平面大样</text>
<text x="517" y="588.2" textLength="20" lengthAdjust="spacingAndGlyphs">适用范围详</text>
<text x="519" y="592.5" textLength="17" lengthAdjust="spacingAndGlyphs">结构平面</text>
<text x="617" y="531" textLength="6" lengthAdjust="spacingAndGlyphs">配筋</text>
<text x="603" y="552" textLength="11" lengthAdjust="spacingAndGlyphs">钢筋</text>
<text x="650" y="549" textLength="3" lengthAdjust="spacingAndGlyphs">h</text>
<text x="630" y="568" textLength="4" lengthAdjust="spacingAndGlyphs">b</text>
<text x="616" y="584" textLength="34" lengthAdjust="spacingAndGlyphs">（图三）构造柱大样</text>
<text x="671" y="584" textLength="38" lengthAdjust="spacingAndGlyphs">（图四）钢筋搭接大样</text>
<text x="707" y="540" textLength="4" lengthAdjust="spacingAndGlyphs">1</text>
<text x="707" y="553" textLength="4" lengthAdjust="spacingAndGlyphs">2</text>
<text x="499" y="617" textLength="5" lengthAdjust="spacingAndGlyphs">b</text>
<text x="486" y="627" textLength="3" lengthAdjust="spacingAndGlyphs">h</text>
<text x="498" y="639" textLength="12" lengthAdjust="spacingAndGlyphs">配筋</text>
<text x="507" y="654" textLength="38" lengthAdjust="spacingAndGlyphs">（图五）梁柱交接大样</text>
<text x="553" y="604" textLength="6" lengthAdjust="spacingAndGlyphs">120</text>
<text x="568" y="609" textLength="8" lengthAdjust="spacingAndGlyphs">配筋</text>
<text x="567" y="616" textLength="11" lengthAdjust="spacingAndGlyphs">拉结筋</text>
<text x="561" y="626" textLength="19" lengthAdjust="spacingAndGlyphs">箍筋同梁</text>
<text x="541" y="634" textLength="7" lengthAdjust="spacingAndGlyphs">纵</text>
<text x="553" y="633" textLength="7" lengthAdjust="spacingAndGlyphs">纵筋</text>
<text x="595" y="628" textLength="28" lengthAdjust="spacingAndGlyphs">基础底板配筋表</text>
<text x="629" y="620.2" textLength="28" lengthAdjust="spacingAndGlyphs">基础梁顶配筋带</text>
<text x="667" y="628" textLength="27" lengthAdjust="spacingAndGlyphs">基础底板配筋表</text>
<text x="653" y="610" textLength="15" lengthAdjust="spacingAndGlyphs">2Φ12@2</text>
<text x="711" y="630" textLength="4" lengthAdjust="spacingAndGlyphs">H</text>
<text x="616" y="654" textLength="50" lengthAdjust="spacingAndGlyphs">（图六）基础底板配筋大样图</text>
</g>

<!-- red text/marks -->
<g class="t"><text x="163" y="550" textLength="15" lengthAdjust="spacingAndGlyphs" style="fill:#f00;stroke:#f00">地下室外墙</text></g>
<g class="r">
<rect x="427" y="392" width="12" height="2"/>
<rect x="357" y="399" width="12" height="1"/>
<rect x="316" y="474" width="12" height="1"/>
<rect x="319" y="640" width="11" height="2"/>
<rect x="384" y="640" width="11" height="2"/>
<rect x="594" y="361" width="11" height="1"/>
</g>
<g fill="none" stroke="#f00" stroke-width="1.4">
<circle cx="544.3" cy="400.3" r="2.5"/><circle cx="557" cy="400.3" r="2.5"/>
</g>

<!-- details: white lines -->
<g class="l">
<!-- det 1 -->
<path d="M505.5 453V497M572.5 453V497M502 455.5H575M502 496.5H575"/>
<path d="M505 459.5H573M505 462.5H573M505 488.5H573M505 494.5H573" stroke-dasharray="6 2"/>
<path d="M520.5 497V508M553.5 497V508M518 506.5H556M553 475.5H570M571 484.5H588M488 484.5H505M488 490.5H505"/>
<path d="M583 505.5H626" style="stroke-width:1.2"/>
<!-- det 2 -->
<path d="M649 458.5H699M651 497.5H695M655.5 456V500M694.5 456V500M634 491.5H654M689 488.5H711M676 478.5V488M688 478.5V488M647 468V476"/>
<!-- det 3 -->
<path d="M509 528.5H552M509.5 526V557M550.5 526V557M510 536.5H550M489 556.5H518M541 556.5H571M491 562.5H570M491.5 553V565M569.5 553V565M518 557.5H541M529.5 527V557M488 544.5H515M488 551.5H515M544 544.5H572M544 551.5H572M497 569.5H520M540 569.5H563M498.5 566V573M519.5 566V573M541.5 566V573M562.5 566V573M507 581.5H555"/>
<rect x="517.5" y="536" width="2" height="21" fill="#fff"/>
<rect x="540.5" y="536" width="2" height="21" fill="#fff"/>
<!-- det 4 -->
<rect x="622.5" y="535.5" width="19" height="22"/>
<path d="M618.5 531V548M618 530.5H635M599 552.5H623M642 535.5H658M642 558.5H658M653.5 534V560M622.5 560V571M642.5 560V571M620 568.5H645M615 586.5H659"/>
<!-- det 5 -->
<path d="M680.5 525V544M680 525.5H697M697.5 525V543M675 567.5H703M690 522V526M690 566V570M698 529.5H712M698 545.5H712M698 558.5H712M709.5 527V560M671 586.5H718"/>
<!-- det 6 -->
<path d="M479 610.5H527M479 645.5H527M484.5 607V649M522.5 607V649M482 628.5H495M512 628.5H525M496 640.5H512M496.5 637V643M511.5 637V643M507 656.5H554"/>
<rect x="492.5" y="618.5" width="22" height="15"/>
<rect x="496.5" y="621.5" width="15" height="9"/>
<!-- det 7 -->
<path d="M546 604.5H566M546.5 602V607M565.5 602V607M549 617.5H565M549 611.5H565M548.5 611V645M553.5 611V645M549 634.5H565M549 644.5H565M564.5 611V617M564.5 634V645M548 626.5H580M564 613.5H578M537 611.5H547M537 619.5H547M537 637.5H547M537 645.5H547M540.5 610V620M540.5 636V646"/>
<!-- det 8 -->
<path d="M594 620.5H699M594 637.5H635M652 637.5H699M594.5 613V640M699.5 613V642M635.5 637V649M651.5 637V649M629 648.5H657M632.5 602V621M655.5 602V621M630 602.5H658M643.5 604V620M642.5 634V646M705 619.5H720M705 637.5H720M711.5 617V640M590 628.5H598M695 628.5H704M616 655.5H676"/>
</g>
<g class="d">
<path d="M613.5 637.5L629.5 621M676 637.5L660 621"/>
<path d="M517 458L512 463M526 473L533 480L526 488M548 473L541 480L548 488" stroke-width=".8"/>
<path d="M510 544L515 539V549ZM549 544L544 539V549Z"/>
<path d="M498 626L508 622H510M500 627H508" stroke-width=".8"/>
<path d="M660 484L668 480M669 490L652 491" stroke-width=".8"/>
<path d="M644 466l4-4l3 4l-3 3zM648 462l4 8" stroke-width="1.2"/>
</g>
<!-- det 5 thick -->
<g fill="#fff" shape-rendering="crispEdges">
<rect x="683" y="528" width="2" height="28"/><rect x="692" y="528" width="2" height="28"/>
<rect x="678" y="543" width="3" height="25"/><rect x="696" y="543" width="3" height="25"/>
<rect x="622" y="535" width="21" height="2"/><rect x="640" y="535" width="3" height="24"/>
<rect x="640" y="556" width="2" height="2"/>
<!-- det7 thick -->
<rect x="549" y="611" width="16" height="2"/><rect x="549" y="634" width="16" height="2"/><rect x="549" y="643" width="16" height="2"/><rect x="548" y="612" width="2" height="33"/>
<rect x="629" y="617" width="26" height="5"/>
</g>
<!-- red rebar det 1 -->
<g class="r">
<rect x="523" y="459" width="4" height="36"/>
<rect x="547" y="460" width="3" height="35"/>
<rect x="521" y="467" width="32" height="4"/>
<rect x="521" y="483" width="32" height="4"/>
<rect x="527" y="481" width="20" height="1"/>
</g>
<!-- red rebar det 2 -->
<g fill="none" stroke="#f00" stroke-width="3.8">
<path d="M659 473L681 462M667 462L690 482M687 473L665 494M680 493L657 473"/>
</g>
<circle cx="673" cy="477" r="6" fill="#000" stroke="#fff" stroke-width="1" stroke-dasharray="2 1"/>
</svg>
</body></html>
